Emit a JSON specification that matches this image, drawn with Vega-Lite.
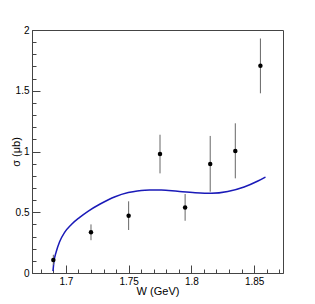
{
  "$schema": "https://vega.github.io/schema/vega-lite/v6.json",
  "width": 251,
  "height": 243,
  "autosize": {"type": "none"},
  "padding": {"left": 32, "top": 30, "right": 32, "bottom": 31},
  "background": "white",
  "config": {
    "view": {"stroke": "#444", "strokeWidth": 1},
    "font": "Liberation Sans",
    "axis": {
      "grid": false,
      "domainColor": "#444",
      "tickColor": "#444",
      "labelColor": "black",
      "titleColor": "black",
      "labelFont": "Liberation Sans",
      "titleFont": "Liberation Sans",
      "labelFontSize": 10,
      "titleFontSize": 11,
      "titleFontWeight": "normal"
    }
  },
  "datasets": {
    "pts": [
      {"w": 1.69, "s": 0.107, "lo": 0.065, "hi": 0.15},
      {"w": 1.72, "s": 0.335, "lo": 0.27, "hi": 0.40},
      {"w": 1.75, "s": 0.472, "lo": 0.354, "hi": 0.59},
      {"w": 1.775, "s": 0.979, "lo": 0.82, "hi": 1.138},
      {"w": 1.795, "s": 0.54, "lo": 0.43, "hi": 0.65},
      {"w": 1.815, "s": 0.897, "lo": 0.669, "hi": 1.128},
      {"w": 1.835, "s": 1.004, "lo": 0.779, "hi": 1.232},
      {"w": 1.855, "s": 1.706, "lo": 1.479, "hi": 1.93}
    ],
    "fit": [
      {"w": 1.6897, "s": 0.015},
      {"w": 1.6905, "s": 0.093},
      {"w": 1.6923, "s": 0.175},
      {"w": 1.695, "s": 0.258},
      {"w": 1.699, "s": 0.335},
      {"w": 1.7044, "s": 0.4},
      {"w": 1.711, "s": 0.458},
      {"w": 1.7176, "s": 0.508},
      {"w": 1.7273, "s": 0.568},
      {"w": 1.7392, "s": 0.628},
      {"w": 1.7497, "s": 0.662},
      {"w": 1.763, "s": 0.682},
      {"w": 1.776, "s": 0.683},
      {"w": 1.789, "s": 0.672},
      {"w": 1.803, "s": 0.661},
      {"w": 1.816, "s": 0.656},
      {"w": 1.829, "s": 0.671},
      {"w": 1.842, "s": 0.708},
      {"w": 1.853, "s": 0.757},
      {"w": 1.859, "s": 0.79}
    ]
  },
  "layer": [
    {
      "data": {"name": "fit"},
      "mark": {"type": "line", "color": "#1a1ab8", "strokeWidth": 1.5, "interpolate": "monotone"},
      "encoding": {
        "x": {
          "field": "w", "type": "quantitative",
          "scale": {"domain": [1.673, 1.873], "nice": false, "zero": false},
          "axis": {"orient": "bottom", "values": [1.68, 1.69, 1.71, 1.72, 1.73, 1.74, 1.76, 1.77, 1.78, 1.79, 1.81, 1.82, 1.83, 1.84, 1.86, 1.87], "tickSize": -4, "labels": false, "domain": false, "title": null}
        },
        "y": {
          "field": "s", "type": "quantitative",
          "scale": {"domain": [0, 2], "nice": false},
          "axis": {"orient": "left", "values": [0.1, 0.2, 0.3, 0.4, 0.6, 0.7, 0.8, 0.9, 1.1, 1.2, 1.3, 1.4, 1.6, 1.7, 1.8, 1.9], "tickSize": -4, "labels": false, "domain": false, "title": null}
        }
      }
    },
    {
      "data": {"name": "pts"},
      "mark": {"type": "rule", "color": "#666", "strokeWidth": 1},
      "encoding": {
        "x": {
          "field": "w", "type": "quantitative",
          "axis": {"orient": "bottom", "values": [1.7, 1.75, 1.8, 1.85], "format": "~g", "tickSize": -8, "labelPadding": 11, "title": "W (GeV)", "titleY": 12, "titleBaseline": "top"}
        },
        "y": {
          "field": "lo", "type": "quantitative",
          "axis": {"orient": "left", "values": [0, 0.5, 1, 1.5, 2], "format": "~g", "tickSize": -8, "labelPadding": 11, "title": "σ (μb)", "titleX": -16, "titleY": 121.5, "titleBaseline": "middle"}
        },
        "y2": {"field": "hi"}
      }
    },
    {
      "data": {"name": "pts"},
      "mark": {"type": "point", "filled": true, "shape": "circle", "color": "black", "size": 20, "opacity": 1},
      "encoding": {
        "x": {"field": "w", "type": "quantitative", "axis": null},
        "y": {"field": "s", "type": "quantitative", "axis": null}
      }
    }
  ],
  "resolve": {"axis": {"x": "independent", "y": "independent"}}
}
